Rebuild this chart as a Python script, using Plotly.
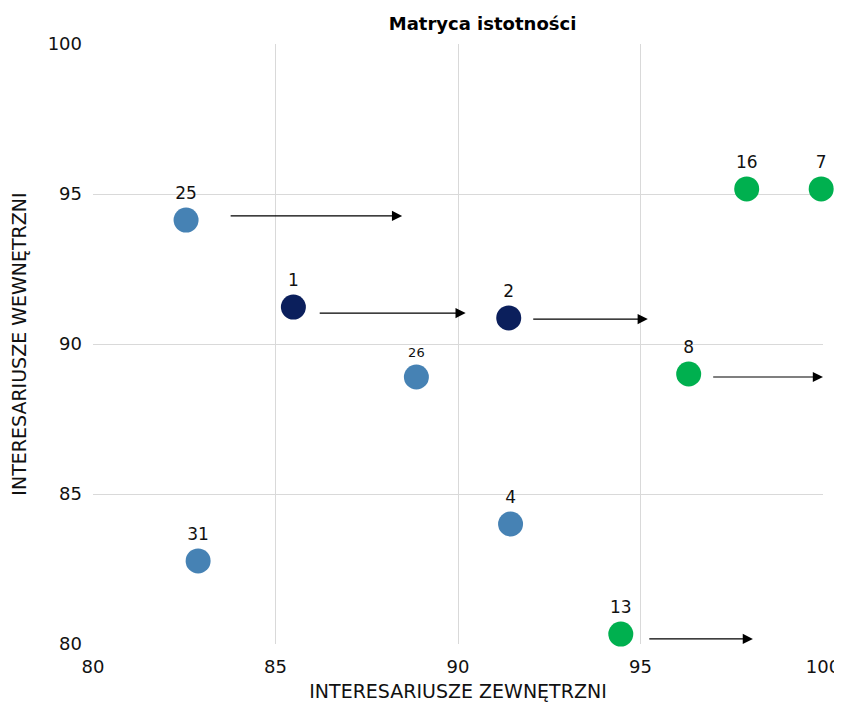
import plotly.graph_objects as go

labels = ["25", "1", "2", "26", "8", "16", "7", "4", "31", "13"]
x_ext = [82.55, 85.49, 91.39, 88.86, 96.32, 97.91, 99.95, 91.44, 82.88, 94.46]
y_int = [94.13, 91.23, 90.87, 88.90, 89.00, 95.17, 95.17, 84.00, 82.77, 80.33]
groups = ["blue", "navy", "navy", "blue", "green", "green", "green", "blue", "blue", "green"]
label_sizes = [17, 17, 17, 13, 17, 17, 17, 17, 17, 17]

arrow_from_x = [83.73, 86.17, 92.02, 96.95, 95.20]
arrow_to_x = [88.47, 90.21, 95.20, 100.0, 98.08]
arrow_y = [94.27, 91.03, 90.83, 88.90, 80.17]

color_map = {"blue": "#4682b4", "navy": "#0b1f5c", "green": "#00b04f"}

fig = go.Figure()
fig.add_trace(go.Scatter(
    x=x_ext, y=y_int, mode="markers+text",
    text=labels, textposition="top center",
    textfont=dict(family="DejaVu Sans", size=label_sizes, color="#111111"),
    marker=dict(size=25, color=[color_map[g] for g in groups], line=dict(width=0)),
    cliponaxis=False, showlegend=False, hoverinfo="skip",
))

for x0, x1, yy in zip(arrow_from_x, arrow_to_x, arrow_y):
    fig.add_annotation(
        x=x1, y=yy, ax=x0, ay=yy, xref="x", yref="y", axref="x", ayref="y",
        showarrow=True, arrowhead=2, arrowsize=1.7, arrowwidth=1.2,
        arrowcolor="#000000", text="",
    )

fig.update_layout(
    width=834, height=699,
    margin=dict(l=85, r=19, t=36, b=63, autoexpand=False),
    paper_bgcolor="white", plot_bgcolor="white",
    title=dict(text="<b>Matryca istotności</b>", x=0.569, xanchor="center",
               y=0.977, yanchor="middle",
               font=dict(family="DejaVu Sans", size=18, color="#000000")),
    font=dict(family="DejaVu Sans", color="#111111"),
)
fig.update_xaxes(
    range=[80, 100], tickvals=[80, 85, 90, 95, 100], showgrid=True,
    gridcolor="#d9d9d9", gridwidth=1, zeroline=False, showline=False,
    tickfont=dict(size=18, family="DejaVu Sans"), ticks="", ticklabelstandoff=10,
    title=dict(text="INTERESARIUSZE ZEWNĘTRZNI", font=dict(size=19), standoff=8),
    automargin=False,
)
fig.update_yaxes(
    range=[80, 100], tickvals=[80, 85, 90, 95, 100], showgrid=True,
    gridcolor="#d9d9d9", gridwidth=1, zeroline=False, showline=False,
    tickfont=dict(size=18, family="DejaVu Sans"), ticks="", ticklabelstandoff=10,
    title=dict(text="INTERESARIUSZE WEWNĘTRZNI", font=dict(size=19), standoff=16),
    automargin=False,
)

fig.write_html("out.html")
